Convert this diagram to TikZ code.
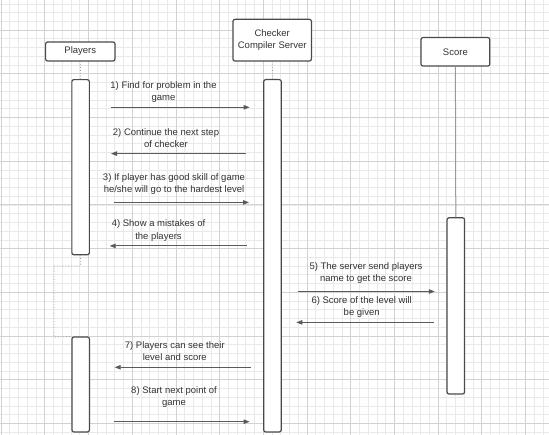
\documentclass[tikz,border=0pt]{standalone}
\usepackage{fontspec}
\setmainfont{Liberation Sans}
\usetikzlibrary{arrows.meta}
\definecolor{gridminor}{HTML}{E9E9E9}
\definecolor{gridmajor}{HTML}{D2D2D2}
\definecolor{boxline}{HTML}{4A4A4A}
\definecolor{msgline}{HTML}{5A5A5A}
\definecolor{txt}{HTML}{333333}
\definecolor{lifegray}{HTML}{9A9A9A}
\begin{document}
\begin{tikzpicture}[x=1pt,y=-1pt,
  actor/.style={draw=boxline, line width=1.2pt, rounded corners=2pt, fill=white,
    inner sep=0pt, align=center, font=\fontsize{9.5}{11.5}\selectfont, text=txt},
  activation/.style={draw=boxline, line width=1.2pt, rounded corners=2pt, fill=white,
    minimum width=17.5pt, inner sep=0pt},
  msg/.style={draw=msgline, line width=0.8pt, -{Triangle[length=6pt,width=4.5pt]}},
  msglabel/.style={align=center, font=\fontsize{9.5}{12.3}\selectfont, text=txt, inner sep=0pt},
  lifeline/.style={draw=lifegray, line width=0.8pt, dotted},
  scoreline/.style={draw=lifegray, line width=1pt},
]
\useasboundingbox (0,0) rectangle (549,435);
\fill[white] (0,0) rectangle (549,435);

% background grid
\foreach \i in {0,...,62}
  \draw[gridminor, line width=0.5pt] ({1+\i*8.74},0) -- ({1+\i*8.74},435);
\foreach \j in {-3,...,46}
  \draw[gridminor, line width=0.5pt] (0,{30+\j*8.74}) -- (549,{30+\j*8.74});
\foreach \i in {0,...,12}
  \draw[gridmajor, line width=0.6pt] ({1+\i*43.7},0) -- ({1+\i*43.7},435);
\foreach \j in {0,...,9}
  \draw[gridmajor, line width=0.6pt] (0,{30+\j*43.7}) -- (549,{30+\j*43.7});

% participants
\node[actor, minimum width=69.4pt, minimum height=19pt] (players) at (80.3,51.5) {Players};
\node[actor, minimum width=78.4pt, minimum height=41.7pt] (checker) at (272.2,40.2)
  {Checker\\Compiler Server};
\node[actor, minimum width=68.8pt, minimum height=28.5pt] (score) at (455.4,51.8) {Score};

% activation bars
\node[activation, minimum height=175.1pt] (actP1) at (80.6,167.2) {};
\node[activation, minimum height=352.4pt] (actC) at (272.5,255.8) {};
\node[activation, minimum height=176.2pt] (actS) at (455.8,305.9) {};
\node[activation, minimum height=95pt] (actP2) at (80.7,384.5) {};

% lifelines
\draw[lifeline] (players.south) -- (actP1.north);
\draw[lifeline] (checker.south) -- (actC.north);
\draw[scoreline] (score.south) -- (actS.north);
\draw[lifeline] (actP1.south) -- (actP1.south |- 0,266) -- (54,266) -- (54,337)
  -- (actP2.north west);

% message end points
\coordinate (m1a) at (111.2,107.3); \coordinate (m1b) at (249.6,107.3);
\coordinate (m2a) at (246,153.6);   \coordinate (m2b) at (111,153.6);
\coordinate (m3a) at (114,202.4);   \coordinate (m3b) at (249,202.4);
\coordinate (m4a) at (246.5,245.9); \coordinate (m4b) at (109.7,245.9);
\coordinate (m5a) at (298,291.5);   \coordinate (m5b) at (434.8,291.5);
\coordinate (m6a) at (433.7,322.4); \coordinate (m6b) at (296.3,322.4);
\coordinate (m7a) at (250.7,367.3); \coordinate (m7b) at (114.7,367.3);
\coordinate (m8a) at (114,421.7);   \coordinate (m8b) at (249.6,421.7);

% messages
\draw[msg] (m1a) -- (m1b);
\draw[msg] (m2a) -- (m2b);
\draw[msg] (m3a) -- (m3b);
\draw[msg] (m4a) -- (m4b);
\draw[msg] (m5a) -- (m5b);
\draw[msg] (m6a) -- (m6b);
\draw[msg] (m7a) -- (m7b);
\draw[msg] (m8a) -- (m8b);

% message labels
\node[msglabel] (l1) at (163.5,92) {1) Find for problem in the\\game};
\node[msglabel] (l2) at (166,138.2) {2) Continue the next step\\of checker};
\node[msglabel] (l3) at (174,184.3) {3) If player has good skill of game\\he/she will go to the hardest level};
\node[msglabel] (l4) at (158.5,230.5) {4) Show a mistakes of\\the players};
\node[msglabel] (l5) at (366,272.8) {5) The server send players\\name to get the score};
\node[msglabel] (l6) at (361.7,307) {6) Score of the level will\\be given};
\node[msglabel] (l7) at (174.8,351.3) {7) Players can see their\\level and score};
\node[msglabel] (l8) at (174,396.9) {8) Start next point of\\game};
\end{tikzpicture}
\end{document}
